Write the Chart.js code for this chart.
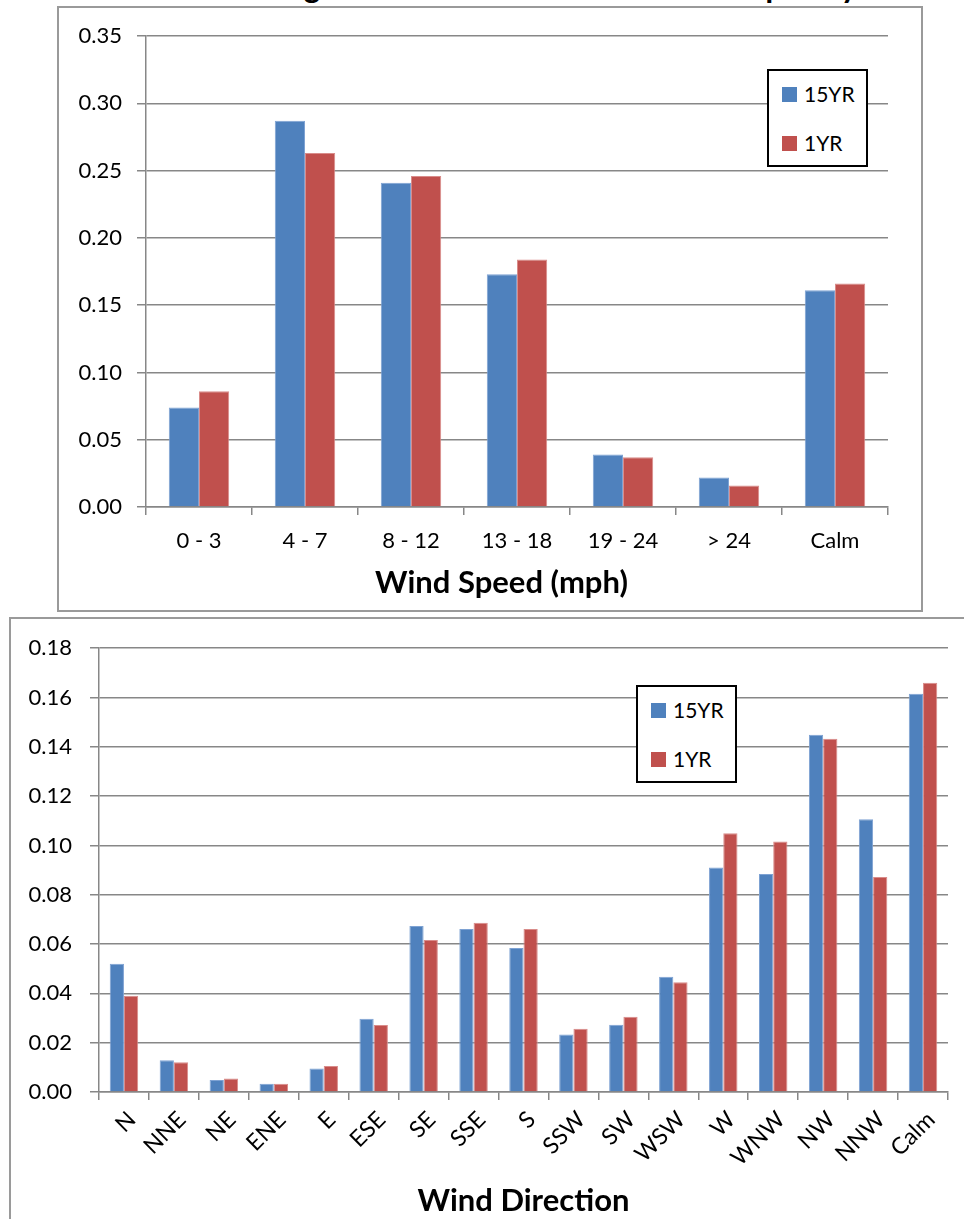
<!DOCTYPE html>
<html>
<head>
<meta charset="utf-8">
<script src="https://cdn.jsdelivr.net/npm/chart.js@4.4.1/dist/chart.umd.min.js"></script>
<style>
  html, body { margin: 0; padding: 0; background: #fff; }
  body { position: relative; width: 964px; height: 1219px; overflow: hidden; font-family: Lato, sans-serif; }
  #title { position: absolute; left: 107px; top: -33px; width: 866px; text-align: center; font-weight: bold; font-size: 31.5px; color: #000; white-space: nowrap; }
  .box { position: absolute; box-sizing: border-box; border: 2px solid #9a9a9a; background: #fff; }
  #topBox { left: 57px; top: 6px; width: 866px; height: 606px; }
  #botBox { left: 9px; top: 617px; width: 990px; height: 640px; }
  canvas { position: absolute; }
  #speedChart { left: 57px; top: 6px; }
  #dirChart { left: 9px; top: 617px; }
  .legend { position: absolute; box-sizing: border-box; border: 2px solid #000; background: #fff; width: 101px; height: 98px; }
  #speedLegend { left: 767px; top: 69px; }
  #dirLegend { left: 636px; top: 685px; }
  .sw { position: absolute; left: 13px; width: 15px; height: 15px; }
  .lt { position: absolute; left: 35px; font-size: 21px; line-height: 24px; color: #000; }
</style>
</head>
<body>
<div id="title">Average Annual Wind Distribution Frequency</div>
<div class="box" id="topBox"></div>
<div class="box" id="botBox"></div>
<canvas id="speedChart" width="866" height="605"></canvas>
<canvas id="dirChart" width="990" height="610"></canvas>
<div class="legend" id="speedLegend"></div>
<div class="legend" id="dirLegend"></div>
<script>
// Wind speed frequency
const speedLabels = ['0 - 3', '4 - 7', '8 - 12', '13 - 18', '19 - 24', '> 24', 'Calm'];
const speed15YR = [0.074, 0.287, 0.241, 0.173, 0.039, 0.022, 0.161];
const speed1YR = [0.086, 0.263, 0.246, 0.184, 0.037, 0.016, 0.166];
const speedTicks = [0, 0.05, 0.10, 0.15, 0.20, 0.25, 0.30, 0.35];

// Wind direction frequency
const dirLabels = ['N', 'NNE', 'NE', 'ENE', 'E', 'ESE', 'SE', 'SSE', 'S', 'SSW', 'SW', 'WSW', 'W', 'WNW', 'NW', 'NNW', 'Calm'];
const dir15YR = [0.052, 0.0129, 0.0049, 0.0033, 0.0095, 0.0297, 0.0673, 0.0661, 0.0584, 0.0233, 0.0273, 0.0467, 0.0911, 0.0884, 0.1449, 0.1106, 0.1615];
const dir1YR = [0.039, 0.0121, 0.0055, 0.0033, 0.0105, 0.0272, 0.0617, 0.0686, 0.0661, 0.0257, 0.0305, 0.0445, 0.1049, 0.1016, 0.1433, 0.0872, 0.1660];
const dirTicks = [0, 0.02, 0.04, 0.06, 0.08, 0.10, 0.12, 0.14, 0.16, 0.18];

const seriesNames = ['15YR', '1YR'];
const fills = ['#4F81BD', '#C0504D'];
const edges = ['#7EA2D3', '#D98C8A'];
const gridColor = '#878787';

function datasets(a, b) {
    return [a, b].map((values, i) => ({
        label: seriesNames[i],
        data: values,
        backgroundColor: fills[i],
        borderColor: edges[i],
        borderWidth: 1,
        barPercentage: 1,
        categoryPercentage: 0.57
    }));
}

function buildChart(id, labels, a, b, ticks, cfg) {
    return new Chart(document.getElementById(id), {
        type: 'bar',
        data: { labels: labels, datasets: datasets(a, b) },
        options: {
            responsive: false,
            animation: false,
            layout: { padding: cfg.padding },
            plugins: { legend: { display: false }, tooltip: { enabled: false } },
            scales: {
                x: {
                    grid: { drawOnChartArea: false, drawTicks: true, tickLength: 8, color: gridColor, lineWidth: 1.5, offset: true },
                    border: { color: gridColor, width: 1.5 },
                    ticks: {
                        color: '#000', autoSkip: false,
                        font: { family: 'Lato', size: cfg.xFont },
                        padding: cfg.xPad, labelOffset: cfg.labelOffset,
                        minRotation: cfg.rot, maxRotation: cfg.rot
                    },
                    title: {
                        display: true, text: cfg.xTitle, color: '#000',
                        font: { family: 'Lato', size: 31, weight: 'bold' },
                        padding: { top: 0, bottom: cfg.titlePad }
                    },
                    afterFit: s => { s.height = cfg.xHeight; }
                },
                y: {
                    min: ticks[0], max: ticks[ticks.length - 1],
                    grid: { color: gridColor, lineWidth: 1.5, tickLength: 9 },
                    border: { color: gridColor, width: 1.5 },
                    ticks: {
                        color: '#000', padding: cfg.yPad,
                        font: { family: 'Lato', size: 22 },
                        callback: v => v.toFixed(2)
                    },
                    afterBuildTicks: s => { s.ticks = ticks.map(v => ({ value: v })); },
                    afterFit: s => { s.width = cfg.yWidth; }
                }
            }
        }
    });
}

function buildLegend(id) {
    const box = document.getElementById(id);
    seriesNames.forEach((name, i) => {
        const sw = document.createElement('div');
        sw.className = 'sw';
        sw.style.top = (16 + i * 49) + 'px';
        sw.style.background = fills[i];
        const t = document.createElement('div');
        t.className = 'lt';
        t.style.top = (11 + i * 49) + 'px';
        t.textContent = name;
        box.appendChild(sw);
        box.appendChild(t);
    });
}

// trailing en spaces nudge the title left, like the original
buildChart('speedChart', speedLabels, speed15YR, speed1YR, speedTicks, {
    padding: { left: 0, right: 35, top: 30, bottom: 0 },
    xTitle: 'Wind Speed (mph)\u2002\u2002', xFont: 22, xPad: 13, labelOffset: 0, rot: 0, xHeight: 104, titlePad: 9,
    yWidth: 89, yPad: 15
});

buildChart('dirChart', dirLabels, dir15YR, dir1YR, dirTicks, {
    padding: { left: 0, right: 51, top: 31, bottom: 0 },
    xTitle: 'Wind Direction', xFont: 23, xPad: 6, labelOffset: 8, rot: 45, xHeight: 135, titlePad: 7,
    yWidth: 90, yPad: 18
});

buildLegend('speedLegend');
buildLegend('dirLegend');
</script>
</body>
</html>
